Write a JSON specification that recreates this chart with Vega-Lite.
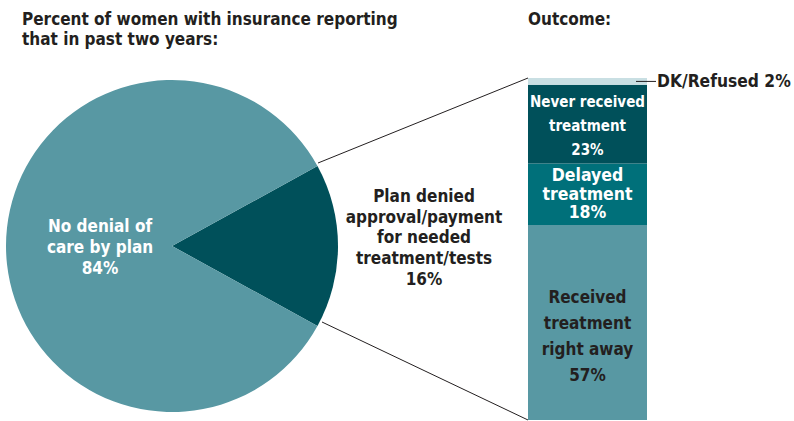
{
  "$schema": "https://vega.github.io/schema/vega-lite/v6.json",
  "width": 794,
  "height": 421,
  "padding": 0,
  "autosize": {"type": "none"},
  "background": "white",
  "config": {"view": {"stroke": null}, "axis": {"disable": true}, "text": {"font": "DejaVu Sans Condensed", "fontWeight": "bold"}},
  "resolve": {"scale": {"color": "independent"}},
  "datasets": {
    "pie": [
      {"cat": "Plan denied approval/payment for needed treatment/tests", "pct": 16, "o": 1, "lines": ["Plan denied", "approval/payment", "for needed", "treatment/tests", "16%"]},
      {"cat": "No denial of care by plan", "pct": 84, "o": 2, "lines": ["No denial of", "care by plan", "84%"]}
    ],
    "outcome": [
      {"cat": "Received treatment right away", "pct": 57, "o": 1, "lines": ["Received", "treatment", "right away", "57%"]},
      {"cat": "Delayed treatment", "pct": 18, "o": 2, "lines": ["Delayed", "treatment", "18%"]},
      {"cat": "Never received treatment", "pct": 23, "o": 3, "lines": ["Never received", "treatment", "23%"]},
      {"cat": "DK/Refused", "pct": 2, "o": 4, "lines": ["DK/Refused 2%"]}
    ]
  },
  "layer": [
    {
      "data": {"values": [{"t": ["Percent of women with insurance reporting", "that in past two years:"]}]},
      "mark": {"type": "text", "x": 22, "y": 12, "align": "left", "baseline": "top", "fontSize": 17, "lineHeight": 20, "color": "#231f20"},
      "encoding": {"text": {"field": "t"}}
    },
    {
      "data": {"values": [{"t": "Outcome:"}]},
      "mark": {"type": "text", "x": 528, "y": 12, "align": "left", "baseline": "top", "fontSize": 17, "color": "#231f20"},
      "encoding": {"text": {"field": "t"}}
    },
    {
      "data": {"values": [{"a": 1}]},
      "mark": {"type": "rule", "color": "#231f20", "strokeWidth": 1},
      "encoding": {"x": {"value": 318}, "y": {"value": 163}, "x2": {"value": 528}, "y2": {"value": 78}}
    },
    {
      "data": {"values": [{"a": 1}]},
      "mark": {"type": "rule", "color": "#231f20", "strokeWidth": 1},
      "encoding": {"x": {"value": 322}, "y": {"value": 322}, "x2": {"value": 528}, "y2": {"value": 420}}
    },
    {
      "data": {"name": "pie"},
      "transform": [
        {"stack": "pct", "groupby": [], "sort": [{"field": "o"}], "as": ["t0", "t1"]}
      ],
      "mark": {"type": "arc", "x": 172, "y": 246, "radius": 166, "stroke": null},
      "encoding": {
        "theta": {"field": "t0", "type": "quantitative", "stack": null, "scale": {"domain": [0, 100], "range": [1.0681, 7.3513]}},
        "theta2": {"field": "t1"},
        "color": {"field": "cat", "type": "nominal", "legend": null, "scale": {"domain": ["Plan denied approval/payment for needed treatment/tests", "No denial of care by plan"], "range": ["#00505a", "#5898a3"]}}
      }
    },
    {
      "data": {"name": "pie"},
      "transform": [
        {"stack": "pct", "groupby": [], "sort": [{"field": "o"}], "as": ["t0", "t1"]},
        {"calculate": "(datum.t0 + datum.t1) / 2", "as": "tm"},
        {"filter": "datum.o == 2"}
      ],
      "mark": {"type": "text", "x": 172, "y": 246, "radius": 72, "fontSize": 17, "lineHeight": 21, "baseline": "middle", "align": "center", "color": "white", "dy": -19},
      "encoding": {
        "theta": {"field": "tm", "type": "quantitative", "stack": null, "scale": {"domain": [0, 100], "range": [1.0681, 7.3513]}},
        "text": {"field": "lines"}
      }
    },
    {
      "data": {"name": "pie"},
      "transform": [
        {"stack": "pct", "groupby": [], "sort": [{"field": "o"}], "as": ["t0", "t1"]},
        {"calculate": "(datum.t0 + datum.t1) / 2", "as": "tm"},
        {"filter": "datum.o == 1"}
      ],
      "mark": {"type": "text", "x": 172, "y": 238, "radius": 252, "fontSize": 17, "lineHeight": 20.7, "baseline": "middle", "align": "center", "color": "#231f20", "dy": -41},
      "encoding": {
        "theta": {"field": "tm", "type": "quantitative", "stack": null, "scale": {"domain": [0, 100], "range": [1.0681, 7.3513]}},
        "text": {"field": "lines"}
      }
    },
    {
      "data": {"name": "outcome"},
      "transform": [
        {"stack": "pct", "groupby": [], "sort": [{"field": "o"}], "as": ["s0", "s1"]}
      ],
      "mark": {"type": "rect", "stroke": null},
      "encoding": {
        "x": {"value": 528},
        "x2": {"value": 647},
        "y": {"field": "s0", "type": "quantitative", "axis": null, "scale": {"domain": [0, 100], "range": [420, 78]}},
        "y2": {"field": "s1"},
        "color": {"field": "cat", "type": "nominal", "legend": null, "scale": {"domain": ["Received treatment right away", "Delayed treatment", "Never received treatment", "DK/Refused"], "range": ["#5898a3", "#00707a", "#00505a", "#c9dfe3"]}}
      }
    },
    {
      "data": {"name": "outcome"},
      "transform": [
        {"stack": "pct", "groupby": [], "sort": [{"field": "o"}], "as": ["s0", "s1"]},
        {"calculate": "(datum.s0 + datum.s1) / 2", "as": "mid"},
        {"filter": "datum.o == 3"}
      ],
      "mark": {"type": "text", "fontSize": 15, "lineHeight": 24, "baseline": "middle", "align": "center", "color": "white", "dy": -22},
      "encoding": {"x": {"value": 587.5}, "y": {"field": "mid", "type": "quantitative", "axis": null}, "text": {"field": "lines"}}
    },
    {
      "data": {"name": "outcome"},
      "transform": [
        {"stack": "pct", "groupby": [], "sort": [{"field": "o"}], "as": ["s0", "s1"]},
        {"calculate": "(datum.s0 + datum.s1) / 2", "as": "mid"},
        {"filter": "datum.o == 2"}
      ],
      "mark": {"type": "text", "fontSize": 17.5, "lineHeight": 18.5, "baseline": "middle", "align": "center", "color": "white", "dy": -18},
      "encoding": {"x": {"value": 587.5}, "y": {"field": "mid", "type": "quantitative", "axis": null}, "text": {"field": "lines"}}
    },
    {
      "data": {"name": "outcome"},
      "transform": [
        {"stack": "pct", "groupby": [], "sort": [{"field": "o"}], "as": ["s0", "s1"]},
        {"calculate": "(datum.s0 + datum.s1) / 2", "as": "mid"},
        {"filter": "datum.o == 1"}
      ],
      "mark": {"type": "text", "fontSize": 17, "lineHeight": 26.3, "baseline": "middle", "align": "center", "color": "#231f20", "dy": -25},
      "encoding": {"x": {"value": 587.5}, "y": {"field": "mid", "type": "quantitative", "axis": null}, "text": {"field": "lines"}}
    },
    {
      "data": {"name": "outcome"},
      "transform": [
        {"stack": "pct", "groupby": [], "sort": [{"field": "o"}], "as": ["s0", "s1"]},
        {"calculate": "(datum.s0 + datum.s1) / 2", "as": "mid"},
        {"filter": "datum.o == 4"}
      ],
      "mark": {"type": "rule", "color": "#231f20", "strokeWidth": 1},
      "encoding": {"x": {"value": 636}, "x2": {"value": 656}, "y": {"field": "mid", "type": "quantitative", "axis": null}}
    },
    {
      "data": {"name": "outcome"},
      "transform": [
        {"stack": "pct", "groupby": [], "sort": [{"field": "o"}], "as": ["s0", "s1"]},
        {"calculate": "(datum.s0 + datum.s1) / 2", "as": "mid"},
        {"filter": "datum.o == 4"}
      ],
      "mark": {"type": "text", "fontSize": 17.3, "baseline": "middle", "align": "left", "color": "#231f20", "dx": 1, "dy": 0.5},
      "encoding": {"x": {"value": 656}, "y": {"field": "mid", "type": "quantitative", "axis": null}, "text": {"field": "lines"}}
    }
  ]
}
